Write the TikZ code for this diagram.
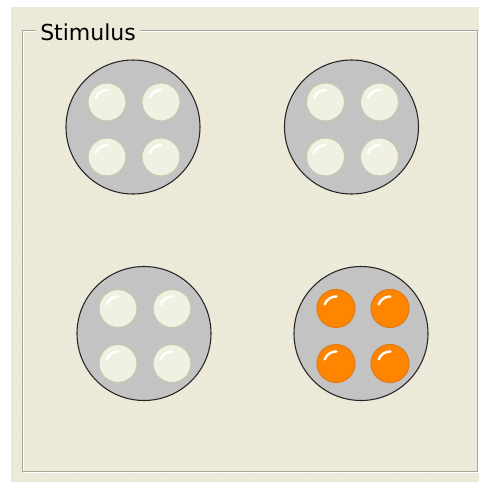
\documentclass[tikz,border=0pt]{standalone}
\usepackage{fontspec}
\newfontfamily\panelfont{DejaVu Sans}
\usetikzlibrary{positioning, calc}

\definecolor{panelbg}{HTML}{ECE9D8}
\definecolor{framegray}{HTML}{A5A59A}
\definecolor{plategray}{HTML}{C3C3C3}
\definecolor{lampoff}{HTML}{F1F1E3}
\definecolor{lampoffrim}{HTML}{C9C8AE}
\definecolor{lampon}{HTML}{FF8400}
\definecolor{lamponrim}{HTML}{E07A10}

\tikzset{
  plate/.style={circle, draw=black!85, line width=0.8pt, fill=plategray, minimum size=100.5pt, inner sep=0pt},
  lamp/.style={circle, draw=lampoffrim, line width=0.8pt, fill=lampoff, minimum size=28.5pt, inner sep=0pt},
  lamplit/.style={lamp, draw=lamponrim, fill=lampon},
  glint/.style={white, line width=1.8pt, line cap=round}
}

% one lamp with its highlight: name, position, style
\newcommand{\lampat}[3]{%
  \node[#3] (#1) at (#2) {};
  \draw[glint] ([shift={(-88:12)}]#1.center) arc[start angle=-88, end angle=-160, radius=12];
}

\begin{document}
\begin{tikzpicture}[x=0.75pt, y=-0.75pt]
\useasboundingbox (0,0) rectangle (479,482);

% panel background and dot grid
\fill[white] (0,0) rectangle (479,482);
\fill[panelbg] (11,7) rectangle (479,482);
\foreach \i in {0,...,41} {
  \foreach \j in {0,...,42} {
    \fill[white] (16+11*\i, 12+11*\j) circle[radius=0.6];
  }
}

% group frame
\draw[white, line width=0.75pt] (23,31) rectangle (478,472);
\draw[framegray, line width=0.75pt] (22,30) rectangle (477,471);

% caption
\node[fill=panelbg, anchor=base west, inner xsep=3pt, inner ysep=2pt, font=\panelfont\fontsize{16.5}{18}\selectfont] (title) at (36,40) {Stimulus};

% plates
\node[plate] (plateA) at (133,127) {};
\node[plate] (plateB) at (351.5,127) {};
\node[plate] (plateC) at (144,333.5) {};
\node[plate] (plateD) at (361,333.5) {};

% lamps, off
\foreach \p in {A,B,C} {
  \lampat{\p1}{$(plate\p)+(-26,-25)$}{lamp}
  \lampat{\p2}{$(plate\p)+(28,-25)$}{lamp}
  \lampat{\p3}{$(plate\p)+(-26,30)$}{lamp}
  \lampat{\p4}{$(plate\p)+(28,30)$}{lamp}
}

% lamps, lit
\lampat{D1}{$(plateD)+(-25,-25)$}{lamplit}
\lampat{D2}{$(plateD)+(29,-25)$}{lamplit}
\lampat{D3}{$(plateD)+(-25,30)$}{lamplit}
\lampat{D4}{$(plateD)+(29,30)$}{lamplit}

\end{tikzpicture}
\end{document}
